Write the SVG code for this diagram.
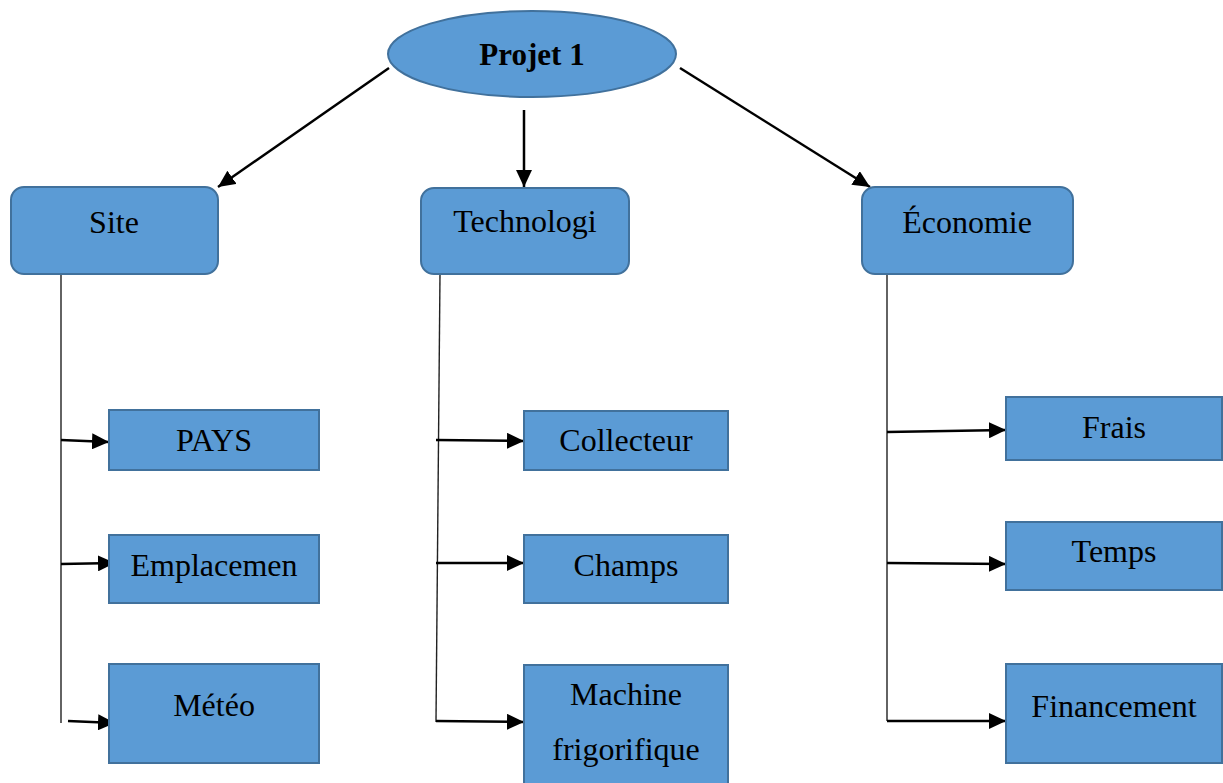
<svg xmlns="http://www.w3.org/2000/svg" width="1223" height="783" viewBox="0 0 1223 783">
  <style>
    .shape { fill: #5B9BD5; stroke: #41719C; stroke-width: 2; }
    .label { font-family: "Liberation Serif", "Times New Roman", serif; font-size: 32px; fill: #000; text-anchor: middle; }
    .title { font-weight: bold; font-size: 31px; }
    .arrow { stroke: #000; stroke-width: 2.5; fill: none; marker-end: url(#head); }
    .trunk { stroke: #222; stroke-width: 1.4; fill: none; }
  </style>
  <defs>
    <marker id="head" markerUnits="userSpaceOnUse" markerWidth="19" markerHeight="16" refX="17" refY="8" orient="auto">
      <path d="M0,0 L17,8 L0,16 Z" fill="#000"/>
    </marker>
  </defs>
  <rect width="1223" height="783" fill="#fff"/>

  <!-- connectors -->
  <g id="connectors">
    <line class="arrow" x1="389" y1="68" x2="218" y2="187"/>
    <line class="arrow" x1="524" y1="110" x2="524" y2="187"/>
    <line class="arrow" x1="680" y1="68" x2="870" y2="187"/>

    <line class="trunk" x1="61" y1="274" x2="61" y2="723"/>
    <line class="arrow" x1="61" y1="440" x2="109" y2="442"/>
    <line class="arrow" x1="61" y1="564" x2="115" y2="563"/>
    <line class="arrow" x1="68" y1="721" x2="115" y2="723"/>

    <line class="trunk" x1="440" y1="274" x2="436" y2="722"/>
    <line class="arrow" x1="436" y1="440" x2="524" y2="441"/>
    <line class="arrow" x1="436" y1="563" x2="524" y2="563"/>
    <line class="arrow" x1="436" y1="721" x2="524" y2="722"/>

    <line class="trunk" x1="887" y1="274" x2="887" y2="721"/>
    <line class="arrow" x1="887" y1="432" x2="1006" y2="430"/>
    <line class="arrow" x1="887" y1="563" x2="1006" y2="564"/>
    <line class="arrow" x1="887" y1="721" x2="1006" y2="721"/>
  </g>

  <g id="projet">
    <ellipse class="shape" cx="532" cy="54" rx="144" ry="43"/>
    <text class="label title" x="532" y="65">Projet 1</text>
  </g>

  <g id="site">
    <rect class="shape" x="11" y="187" width="207" height="87" rx="13"/>
    <text class="label" x="114" y="233">Site</text>
  </g>
  <g id="technologi">
    <rect class="shape" x="421" y="188" width="208" height="86" rx="13"/>
    <text class="label" x="525" y="232">Technologi</text>
  </g>
  <g id="economie">
    <rect class="shape" x="862" y="187" width="211" height="87" rx="13"/>
    <text class="label" x="967" y="233">Économie</text>
  </g>

  <g id="pays">
    <rect class="shape" x="109" y="410" width="210" height="60"/>
    <text class="label" x="214" y="451">PAYS</text>
  </g>
  <g id="emplacemen">
    <rect class="shape" x="109" y="535" width="210" height="68"/>
    <text class="label" x="214" y="576">Emplacemen</text>
  </g>
  <g id="meteo">
    <rect class="shape" x="109" y="664" width="210" height="99"/>
    <text class="label" x="214" y="716">Météo</text>
  </g>

  <g id="collecteur">
    <rect class="shape" x="524" y="411" width="204" height="59"/>
    <text class="label" x="626" y="451">Collecteur</text>
  </g>
  <g id="champs">
    <rect class="shape" x="524" y="535" width="204" height="68"/>
    <text class="label" x="626" y="576">Champs</text>
  </g>
  <g id="machine">
    <rect class="shape" x="524" y="665" width="204" height="130"/>
    <text class="label" x="626" y="705">Machine</text>
    <text class="label" x="626" y="760">frigorifique</text>
  </g>

  <g id="frais">
    <rect class="shape" x="1006" y="397" width="216" height="63"/>
    <text class="label" x="1114" y="438">Frais</text>
  </g>
  <g id="temps">
    <rect class="shape" x="1006" y="522" width="216" height="68"/>
    <text class="label" x="1114" y="562">Temps</text>
  </g>
  <g id="financement">
    <rect class="shape" x="1006" y="664" width="216" height="99"/>
    <text class="label" x="1114" y="717">Financement</text>
  </g>
</svg>
